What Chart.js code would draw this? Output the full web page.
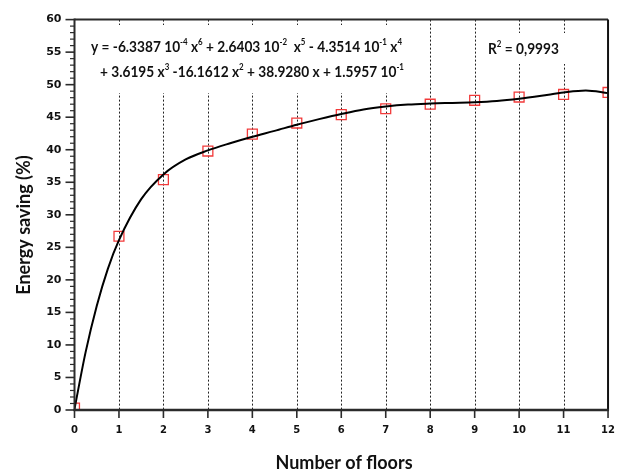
<!DOCTYPE html>
<html><head><meta charset="utf-8">
<script src="https://cdn.jsdelivr.net/npm/chart.js@4/dist/chart.umd.min.js"></script>
<style>html,body{margin:0;padding:0;background:#fff}canvas{display:block}</style>
</head><body>
<canvas id="c" width="629" height="476"></canvas>
<script>
// ---- data ----
const floors  = [0, 1, 2, 3, 4, 5, 6, 7, 8, 9, 10, 11, 12];
const savings = [0.3, 26.7, 35.4, 39.8, 42.4, 44.1, 45.4, 46.3, 47.0, 47.6, 48.1, 48.5, 48.8];
// fitted curve as traced on the picture
const curveX = [0, 0.25, 0.5, 0.75, 1, 1.5, 2, 2.5, 3, 3.5, 4, 4.5, 5, 5.5, 6, 6.5, 7, 7.5, 8, 8.5, 9, 9.5, 10, 10.5, 11, 11.5, 12];
const curveY = [0.16, 8.9, 16.0, 21.7, 26.1, 32.4, 36.2, 38.5, 39.9, 41.0, 42.0, 42.9, 43.85, 44.7, 45.5, 46.2, 46.65, 46.95, 47.1, 47.2, 47.3, 47.5, 47.85, 48.3, 48.8, 49.1, 48.7];
const xTickValues = [0, 1, 2, 3, 4, 5, 6, 7, 8, 9, 10, 11, 12];
const yTickValues = [0, 5, 10, 15, 20, 25, 30, 35, 40, 45, 50, 55, 60];
const xTitle = 'Number of floors';
const yTitle = 'Energy saving (%)';
const eqLine1 = [['y = -6.3387 10',0],['-4',1],[' x',0],['6',1],[' + 2.6403 10',0],['-2',1],['  x',0],['5',1],[' - 4.3514 10',0],['-1',1],[' x',0],['4',1]];
const eqLine2 = [['+ 3.6195 x',0],['3',1],[' -16.1612 x',0],['2',1],[' + 38.9280 x + 1.5957 10',0],['-1',1]];
const r2Text  = [['R',0],['2',1],[' = 0,9993',0]];

const TXT = '#111';
const EQFONT = 'Lato, "Open Sans", sans-serif';
const EQSIZE = 15.5;

function richWidth(ctx, segs, F) {
  let w = 0;
  for (const [t, s] of segs) {
    ctx.font = 'bold ' + (s ? F * 0.58 : F) + 'px ' + EQFONT;
    w += ctx.measureText(t).width;
  }
  return w;
}
function drawRich(ctx, segs, x, y, F, sx) {
  ctx.save();
  ctx.translate(x, y); ctx.scale(sx, 1);
  let cx = 0;
  ctx.textAlign = 'left'; ctx.textBaseline = 'alphabetic'; ctx.fillStyle = TXT;
  for (const [t, s] of segs) {
    ctx.font = 'bold ' + (s ? F * 0.58 : F) + 'px ' + EQFONT;
    ctx.fillText(t, cx, s ? -F * 0.45 : 0);
    cx += ctx.measureText(t).width;
  }
  ctx.restore();
}

const framePlugin = {
  id: 'frame',
  beforeDatasetsDraw(chart) {
    const {ctx, chartArea: a, scales: {x, y}} = chart;
    ctx.save();
    // dotted vertical grid lines
    ctx.strokeStyle = '#222'; ctx.lineWidth = 1; ctx.setLineDash([2, 2]);
    for (const v of xTickValues) {
      if (v === 0 || v === 12) continue;
      const px = Math.round(x.getPixelForValue(v)) + 0.5;
      ctx.beginPath(); ctx.moveTo(px, a.top); ctx.lineTo(px, a.bottom); ctx.stroke();
    }
    ctx.setLineDash([]);
    // white boxes behind annotations
    ctx.fillStyle = '#fff';
    ctx.fillRect(86, 25, 321, 68);
    ctx.fillRect(483, 33, 85, 31);
    // equation
    const sx = 311 / richWidth(ctx, eqLine1, EQSIZE);
    drawRich(ctx, eqLine1, 91, 52, EQSIZE, sx);
    drawRich(ctx, eqLine2, 100, 77, EQSIZE, sx);
    drawRich(ctx, r2Text, 488, 54, EQSIZE, sx);
    ctx.restore();
  },
  afterDatasetsDraw(chart) {
    const {ctx, chartArea: a, scales: {x, y}} = chart;
    ctx.save();
    ctx.strokeStyle = '#2b2b2b';
    // minor + major ticks on y
    for (let v = 0; v <= 60; v++) {
      const py = y.getPixelForValue(v);
      const major = v % 5 === 0;
      ctx.lineWidth = major ? 1.6 : 1.2;
      ctx.beginPath(); ctx.moveTo(a.left - (major ? 9 : 4.5), py); ctx.lineTo(a.left, py); ctx.stroke();
    }
    // ticks on x
    ctx.lineWidth = 1.6;
    for (const v of xTickValues) {
      const px = x.getPixelForValue(v);
      ctx.beginPath(); ctx.moveTo(px, a.bottom); ctx.lineTo(px, a.bottom + 8); ctx.stroke();
    }
    // frame
    ctx.lineWidth = 2;
    ctx.beginPath(); ctx.moveTo(a.left, a.top); ctx.lineTo(a.right, a.top); ctx.stroke();
    ctx.strokeStyle = '#111';
    ctx.beginPath(); ctx.moveTo(a.right, a.top); ctx.lineTo(a.right, a.bottom); ctx.stroke();
    ctx.strokeStyle = '#2b2b2b';
    ctx.beginPath(); ctx.moveTo(a.left, a.top - 1); ctx.lineTo(a.left, a.bottom + 1); ctx.stroke();
    ctx.lineWidth = 2.5;
    ctx.beginPath(); ctx.moveTo(a.left - 1, a.bottom); ctx.lineTo(a.right + 1, a.bottom); ctx.stroke();
    // axis titles
    ctx.fillStyle = TXT; ctx.font = 'bold 18px ' + EQFONT;
    ctx.textAlign = 'center'; ctx.textBaseline = 'middle';
    ctx.fillText(xTitle, 344, 463);
    ctx.translate(24, 225); ctx.rotate(-Math.PI / 2);
    ctx.fillText(yTitle, 0, 0);
    ctx.restore();
  }
};

new Chart(document.getElementById('c'), {
  type: 'scatter',
  data: {
    datasets: [
      {
        type: 'line',
        data: curveX.map((v, i) => ({x: v, y: curveY[i]})),
        borderColor: '#000', borderWidth: 2, pointRadius: 0,
        cubicInterpolationMode: 'monotone', fill: false
      },
      {
        type: 'scatter',
        data: floors.map((v, i) => ({x: v, y: savings[i]})),
        pointStyle: 'rect', pointRadius: 7, borderWidth: 1.3,
        borderColor: '#f23a3a', backgroundColor: 'rgba(0,0,0,0)', clip: 0
      }
    ]
  },
  options: {
    responsive: false, animation: false, events: [],
    layout: {padding: {left: 0, right: 14.5, top: 14.5, bottom: 0}},
    plugins: {legend: {display: false}, tooltip: {enabled: false}},
    scales: {
      x: {
        type: 'linear', min: 0, max: 12,
        afterBuildTicks: s => { s.ticks = xTickValues.map(v => ({value: v})); },
        grid: {display: false, drawTicks: false}, border: {display: false},
        ticks: {padding: 14, color: TXT, maxRotation: 0, autoSkip: false,
                font: {family: '"DejaVu Sans"', weight: 'bold', size: 10}},
        afterFit: s => { s.height = 66; }
      },
      y: {
        type: 'linear', min: 0, max: 60,
        afterBuildTicks: s => { s.ticks = yTickValues.map(v => ({value: v})); },
        grid: {display: false, drawTicks: false}, border: {display: false},
        ticks: {padding: 13, color: TXT, autoSkip: false,
                font: {family: '"DejaVu Sans"', weight: 'bold', size: 11}},
        afterFit: s => { s.width = 74.5; }
      }
    }
  },
  plugins: [framePlugin]
});
</script>
</body></html>
